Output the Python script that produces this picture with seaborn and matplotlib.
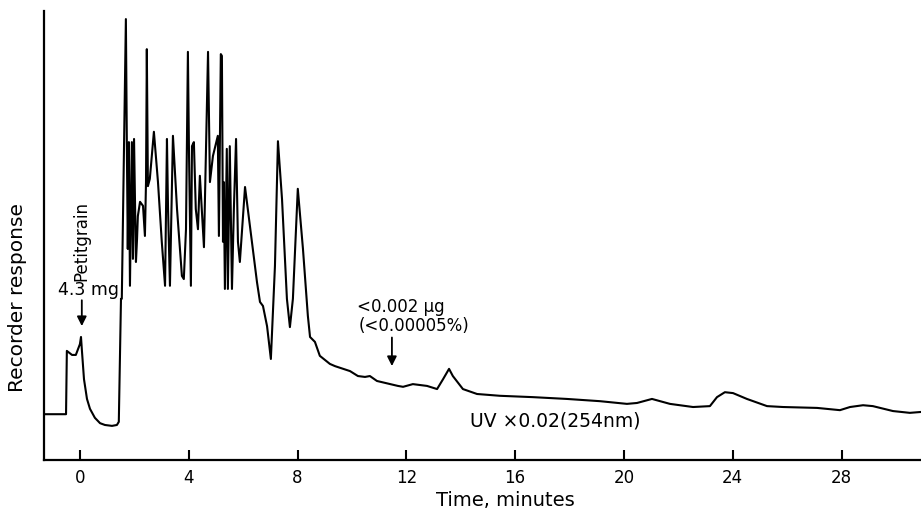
import numpy as np
import pandas as pd
import seaborn as sns
import matplotlib.pyplot as plt

# Chromatogram trace (time in minutes, response in % of full scale)
time_min = [-1.32, -0.92, -0.59, -0.51, -0.48, -0.29, -0.15, 0.00, 0.04, 0.07, 0.15, 0.26, 0.37,
            0.55, 0.74, 0.92, 1.18, 1.36, 1.43, 1.51, 1.54, 1.62, 1.69,
            1.73, 1.76, 1.80, 1.84, 1.91, 1.95, 1.99, 2.06, 2.10, 2.13, 2.21, 2.32, 2.39, 2.43,
            2.46, 2.50, 2.57, 2.72, 2.87, 3.01, 3.13, 3.20, 3.24, 3.31, 3.42, 3.57, 3.75, 3.82,
            3.90, 3.97, 4.01, 4.08, 4.12, 4.19, 4.26, 4.34, 4.41, 4.56, 4.71, 4.78, 4.89, 5.07,
            5.11, 5.18, 5.22, 5.26, 5.29, 5.33, 5.40, 5.44, 5.51, 5.59, 5.66, 5.74, 5.81, 5.88,
            6.07, 6.25, 6.51, 6.62, 6.73, 6.88, 7.02, 7.17, 7.28, 7.43, 7.61, 7.72, 7.83, 8.01,
            8.20, 8.38, 8.46, 8.64, 8.82, 9.19, 9.38, 9.93, 10.22, 10.48, 10.66, 10.92, 11.40,
            11.69, 11.88, 12.24, 12.76, 13.13, 13.35, 13.57, 13.71, 14.08, 14.60, 15.44, 16.65,
            17.90, 19.12, 20.11, 20.48, 21.03, 21.69, 22.54, 23.16, 23.42, 23.71, 24.01, 24.52,
            25.26, 25.85, 27.10, 27.94, 28.31, 28.79, 29.15, 29.89, 30.51, 30.92]
response = [10.2, 10.2, 10.2, 10.2, 24.3, 23.4, 23.4, 25.8, 27.4, 24.7, 18.0, 13.6, 11.4,
            9.4, 8.2, 7.8, 7.6, 7.8, 8.5, 35.9, 35.9, 69.3, 98.2,
            67.0, 47.0, 70.8, 38.8, 70.8, 44.8, 71.5, 44.1, 49.2, 54.3, 57.5, 56.6, 49.9, 61.9,
            91.5, 61.0, 62.6, 73.1, 61.9, 48.6, 38.8, 71.5, 55.9, 38.8, 72.2, 55.9, 41.0, 40.3,
            51.4, 90.9, 68.6, 38.8, 69.9, 70.8, 55.9, 51.4, 63.3, 47.4, 90.9, 61.9, 67.7, 72.2,
            49.9, 90.4, 90.0, 48.6, 61.9, 38.1, 69.3, 38.1, 69.9, 38.1, 55.9, 71.5, 48.6, 44.1,
            60.8, 52.1, 39.6, 35.2, 34.3, 29.8, 22.5, 43.2, 71.0, 58.1, 35.9, 29.6, 35.9, 60.4,
            47.0, 32.1, 27.4, 26.3, 23.2, 21.4, 20.9, 19.8, 18.7, 18.5, 18.7, 17.6, 16.9,
            16.5, 16.3, 16.9, 16.5, 15.8, 18.0, 20.3, 18.7, 15.8, 14.7, 14.3, 14.0,
            13.6, 13.1, 12.5, 12.7, 13.6, 12.5, 11.8, 12.0, 14.0, 15.1, 14.9, 13.6,
            12.0, 11.8, 11.6, 11.1, 11.8, 12.2, 12.0, 10.9, 10.5, 10.7]

x_ticks = [0, 4, 8, 12, 16, 20, 24, 28]

df = pd.DataFrame({'time': time_min, 'response': response})

sns.set_style('white')
plt.rcParams['font.family'] = ['DejaVu Sans']
plt.rcParams['text.color'] = 'black'

fig = plt.figure(figsize=(9.21, 5.10), dpi=100)
ax = fig.add_axes([44 / 921, 49 / 510, 877 / 921, 449 / 510])

sns.lineplot(data=df, x='time', y='response', ax=ax, color='black', linewidth=1.5,
             estimator=None, sort=False)

ax.set_xlim(-1.32, 30.92)
ax.set_ylim(0, 100)
ax.set_xticks(x_ticks)
ax.set_yticks([])
ax.tick_params(axis='x', bottom=True, direction='in', length=7, width=1.5, pad=6,
               labelsize=12, colors='black')

for side in ['top', 'right']:
    ax.spines[side].set_visible(False)
for side in ['left', 'bottom']:
    ax.spines[side].set_color('black')
    ax.spines[side].set_linewidth(1.6)

ax.set_xlabel('')
ax.set_ylabel('')
fig.text(18 / 921, 1 - 297 / 510, 'Recorder response', rotation=90, ha='center', va='center',
         fontsize=14.5)
fig.text(505 / 921, 1 - 501 / 510, 'Time, minutes', ha='center', va='center', fontsize=14)

# Injection marker
ax.annotate('', xy=(0.07, 29.2), xytext=(0.07, 36.2),
            arrowprops=dict(arrowstyle='-|>', color='black', lw=1.3, mutation_scale=14))
ax.text(0.07, 40.0, 'Petitgrain', rotation=90, ha='center', va='bottom', fontsize=12)
ax.text(0.33, 38.1, '4.3 mg', ha='center', va='center', fontsize=12.5)

# Detection limit marker
ax.annotate('', xy=(11.47, 20.3), xytext=(11.47, 27.9),
            arrowprops=dict(arrowstyle='-|>', color='black', lw=1.3, mutation_scale=14))
ax.text(11.8, 34.3, '<0.002 µg', ha='center', va='center', fontsize=12)
ax.text(12.3, 30.0, '(<0.00005%)', ha='center', va='center', fontsize=12)

ax.text(14.34, 8.9, 'UV ×0.02(254nm)', ha='left', va='center', fontsize=13.5)

fig.savefig('out.png', dpi=100)
